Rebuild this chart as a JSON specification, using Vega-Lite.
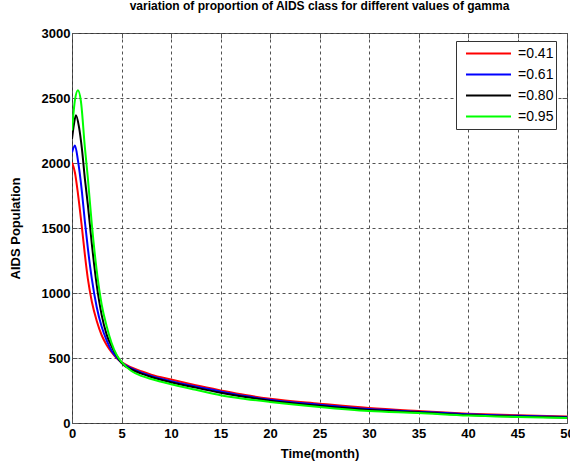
{
  "$schema": "https://vega.github.io/schema/vega-lite/v6.json",
  "width": 495,
  "height": 390,
  "autosize": {"type": "none"},
  "padding": {"left": 72, "top": 33, "right": 3, "bottom": 41},
  "background": "white",
  "title": {
    "text": "variation of proportion of AIDS class for different values of gamma",
    "font": "Liberation Sans",
    "fontSize": 12,
    "fontWeight": "bold",
    "color": "black",
    "anchor": "middle",
    "offset": 14
  },
  "config": {
    "view": {"stroke": "#555", "strokeWidth": 1},
    "axis": {
      "labelFont": "Liberation Sans",
      "labelFontWeight": "bold",
      "labelFontSize": 13,
      "labelColor": "black",
      "labelFlush": false,
      "labelOverlap": false,
      "titleFont": "Liberation Sans",
      "titleFontWeight": "bold",
      "titleFontSize": 13,
      "titleColor": "black",
      "domain": false,
      "tickColor": "#555",
      "tickSize": -5,
      "gridColor": "#333",
      "gridDash": [3, 3],
      "gridOpacity": 0.85
    }
  },
  "data": {
    "values": [
      {"g": "=0.41", "t": 0, "v": 2004}, {"g": "=0.41", "t": 0.3, "v": 1925}, {"g": "=0.41", "t": 0.6, "v": 1765}, {"g": "=0.41", "t": 1, "v": 1505}, {"g": "=0.41", "t": 1.3, "v": 1295}, {"g": "=0.41", "t": 1.6, "v": 1110}, {"g": "=0.41", "t": 2, "v": 935}, {"g": "=0.41", "t": 2.5, "v": 785}, {"g": "=0.41", "t": 3, "v": 675}, {"g": "=0.41", "t": 3.5, "v": 600}, {"g": "=0.41", "t": 4, "v": 545}, {"g": "=0.41", "t": 4.5, "v": 500}, {"g": "=0.41", "t": 5, "v": 468}, {"g": "=0.41", "t": 6, "v": 428}, {"g": "=0.41", "t": 7, "v": 398}, {"g": "=0.41", "t": 8, "v": 372}, {"g": "=0.41", "t": 10, "v": 334}, {"g": "=0.41", "t": 12.5, "v": 290}, {"g": "=0.41", "t": 15, "v": 251}, {"g": "=0.41", "t": 17.5, "v": 215}, {"g": "=0.41", "t": 20, "v": 187}, {"g": "=0.41", "t": 25, "v": 149}, {"g": "=0.41", "t": 30, "v": 115}, {"g": "=0.41", "t": 35, "v": 92}, {"g": "=0.41", "t": 40, "v": 72}, {"g": "=0.41", "t": 45, "v": 59}, {"g": "=0.41", "t": 50, "v": 50},
      {"g": "=0.61", "t": 0, "v": 2080}, {"g": "=0.61", "t": 0.3, "v": 2135}, {"g": "=0.61", "t": 0.6, "v": 2020}, {"g": "=0.61", "t": 1, "v": 1780}, {"g": "=0.61", "t": 1.3, "v": 1550}, {"g": "=0.61", "t": 1.6, "v": 1345}, {"g": "=0.61", "t": 2, "v": 1110}, {"g": "=0.61", "t": 2.5, "v": 890}, {"g": "=0.61", "t": 3, "v": 740}, {"g": "=0.61", "t": 3.5, "v": 635}, {"g": "=0.61", "t": 4, "v": 555}, {"g": "=0.61", "t": 4.5, "v": 505}, {"g": "=0.61", "t": 5, "v": 465}, {"g": "=0.61", "t": 6, "v": 420}, {"g": "=0.61", "t": 7, "v": 388}, {"g": "=0.61", "t": 8, "v": 362}, {"g": "=0.61", "t": 10, "v": 322}, {"g": "=0.61", "t": 12.5, "v": 280}, {"g": "=0.61", "t": 15, "v": 242}, {"g": "=0.61", "t": 17.5, "v": 207}, {"g": "=0.61", "t": 20, "v": 179}, {"g": "=0.61", "t": 25, "v": 140}, {"g": "=0.61", "t": 30, "v": 107}, {"g": "=0.61", "t": 35, "v": 87}, {"g": "=0.61", "t": 40, "v": 67}, {"g": "=0.61", "t": 45, "v": 55}, {"g": "=0.61", "t": 50, "v": 46},
      {"g": "=0.80", "t": 0, "v": 2185}, {"g": "=0.80", "t": 0.2, "v": 2300}, {"g": "=0.80", "t": 0.4, "v": 2368}, {"g": "=0.80", "t": 0.7, "v": 2280}, {"g": "=0.80", "t": 1, "v": 2110}, {"g": "=0.80", "t": 1.3, "v": 1880}, {"g": "=0.80", "t": 1.6, "v": 1680}, {"g": "=0.80", "t": 2, "v": 1380}, {"g": "=0.80", "t": 2.5, "v": 1060}, {"g": "=0.80", "t": 3, "v": 830}, {"g": "=0.80", "t": 3.5, "v": 680}, {"g": "=0.80", "t": 4, "v": 590}, {"g": "=0.80", "t": 4.5, "v": 520}, {"g": "=0.80", "t": 5, "v": 462}, {"g": "=0.80", "t": 6, "v": 412}, {"g": "=0.80", "t": 7, "v": 380}, {"g": "=0.80", "t": 8, "v": 354}, {"g": "=0.80", "t": 10, "v": 314}, {"g": "=0.80", "t": 12.5, "v": 272}, {"g": "=0.80", "t": 15, "v": 233}, {"g": "=0.80", "t": 17.5, "v": 200}, {"g": "=0.80", "t": 20, "v": 172}, {"g": "=0.80", "t": 25, "v": 132}, {"g": "=0.80", "t": 30, "v": 100}, {"g": "=0.80", "t": 35, "v": 82}, {"g": "=0.80", "t": 40, "v": 62}, {"g": "=0.80", "t": 45, "v": 50}, {"g": "=0.80", "t": 50, "v": 42},
      {"g": "=0.95", "t": 0, "v": 2250}, {"g": "=0.95", "t": 0.3, "v": 2485}, {"g": "=0.95", "t": 0.6, "v": 2560}, {"g": "=0.95", "t": 0.9, "v": 2475}, {"g": "=0.95", "t": 1.3, "v": 2120}, {"g": "=0.95", "t": 1.6, "v": 1885}, {"g": "=0.95", "t": 2, "v": 1530}, {"g": "=0.95", "t": 2.5, "v": 1170}, {"g": "=0.95", "t": 3, "v": 910}, {"g": "=0.95", "t": 3.5, "v": 745}, {"g": "=0.95", "t": 4, "v": 615}, {"g": "=0.95", "t": 4.5, "v": 525}, {"g": "=0.95", "t": 5, "v": 470}, {"g": "=0.95", "t": 6, "v": 400}, {"g": "=0.95", "t": 7, "v": 362}, {"g": "=0.95", "t": 8, "v": 338}, {"g": "=0.95", "t": 10, "v": 298}, {"g": "=0.95", "t": 12.5, "v": 255}, {"g": "=0.95", "t": 15, "v": 213}, {"g": "=0.95", "t": 17.5, "v": 185}, {"g": "=0.95", "t": 20, "v": 162}, {"g": "=0.95", "t": 25, "v": 123}, {"g": "=0.95", "t": 30, "v": 92}, {"g": "=0.95", "t": 35, "v": 77}, {"g": "=0.95", "t": 40, "v": 57}, {"g": "=0.95", "t": 45, "v": 46}, {"g": "=0.95", "t": 50, "v": 38}
    ]
  },
  "resolve": {"axis": {"x": "independent", "y": "independent"}},
  "layer": [
    {
      "mark": {"type": "line", "opacity": 0},
      "encoding": {
        "x": {"field": "t", "type": "quantitative", "scale": {"domain": [0, 50], "nice": false},
              "axis": {"orient": "top", "values": [0, 5, 10, 15, 20, 25, 30, 35, 40, 45, 50], "labels": false, "grid": false, "title": null}},
        "y": {"field": "v", "type": "quantitative", "scale": {"domain": [0, 3000], "nice": false},
              "axis": {"orient": "right", "values": [0, 500, 1000, 1500, 2000, 2500, 3000], "labels": false, "grid": false, "title": null}},
        "detail": {"field": "g"}
      }
    },
    {
      "mark": {"type": "line", "interpolate": "monotone", "strokeWidth": 2, "clip": true},
      "encoding": {
        "x": {"field": "t", "type": "quantitative", "scale": {"domain": [0, 50], "nice": false},
              "axis": {"orient": "bottom", "grid": true, "values": [0, 5, 10, 15, 20, 25, 30, 35, 40, 45, 50], "format": "d", "title": "Time(month)", "labelPadding": 9, "titlePadding": 7}},
        "y": {"field": "v", "type": "quantitative", "scale": {"domain": [0, 3000], "nice": false},
              "axis": {"orient": "left", "grid": true, "values": [0, 500, 1000, 1500, 2000, 2500, 3000], "format": "d", "title": "AIDS Population", "labelPadding": 7, "titlePadding": 19}},
        "color": {
          "field": "g", "type": "nominal",
          "scale": {"domain": ["=0.41", "=0.61", "=0.80", "=0.95"], "range": ["#ff0000", "#0000ff", "#000000", "#00ff00"]},
          "legend": {
            "title": null,
            "orient": "none",
            "legendX": 384,
            "legendY": 8,
            "symbolType": "stroke",
            "symbolSize": 2025,
            "symbolStrokeWidth": 2,
            "symbolOffset": 7,
            "clipHeight": 21,
            "rowPadding": 0,
            "padding": 2,
            "labelOffset": 6,
            "labelFont": "Liberation Sans",
            "labelFontSize": 14,
            "labelColor": "black",
            "labelExpr": "datum.label + '\u00a0\u00a0'",
            "strokeColor": "#333",
            "fillColor": "white"
          }
        }
      }
    }
  ]
}
